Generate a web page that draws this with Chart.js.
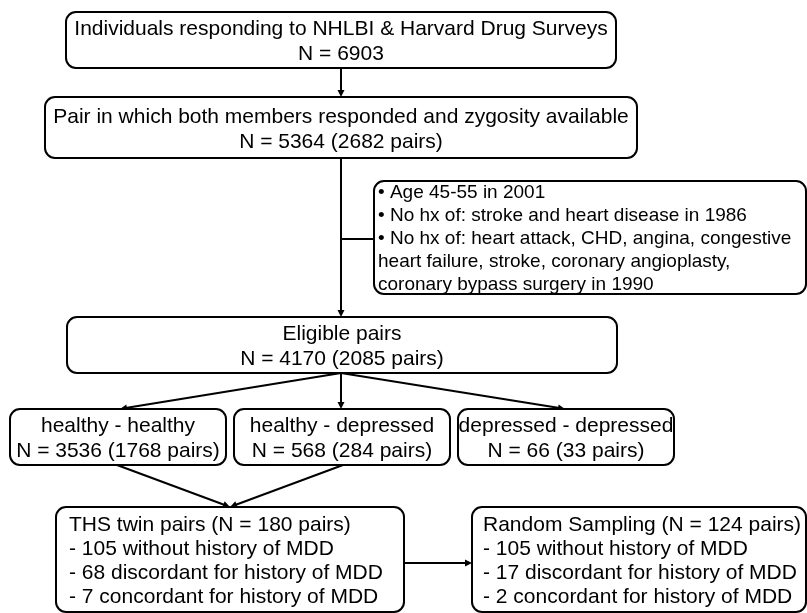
<!DOCTYPE html>
<html>
<head>
<meta charset="utf-8">
<script src="https://cdn.jsdelivr.net/npm/chart.js"></script>
<style>
  html, body { margin: 0; padding: 0; background: #fff; }
  #wrap { width: 807px; height: 613px; }
</style>
</head>
<body>
<div id="wrap"><canvas id="chart" width="807" height="613"></canvas></div>
<script>
// box texts
const surveyLines = ['Individuals responding to NHLBI & Harvard Drug Surveys', 'N = 6903'];
const pairLines = ['Pair in which both members responded and zygosity available', 'N = 5364 (2682 pairs)'];
const criteriaLines = [
    '\u2022 Age 45-55 in 2001',
    '\u2022 No hx of: stroke and heart disease in 1986',
    '\u2022 No hx of: heart attack, CHD, angina, congestive',
    'heart failure, stroke, coronary angioplasty,',
    'coronary bypass surgery in 1990',
];
const eligibleLines = ['Eligible pairs', 'N = 4170 (2085 pairs)'];
const groupLabels = ['healthy - healthy', 'healthy - depressed', 'depressed - depressed'];
const groupN = [3536, 568, 66];
const groupPairs = [1768, 284, 33];
const thsLines = [
    'THS twin pairs (N = 180 pairs)',
    '- 105 without history of MDD',
    '- 68 discordant for history of MDD',
    '- 7 concordant for history of MDD',
];
const randomLines = [
    'Random Sampling (N = 124 pairs)',
    '- 105 without history of MDD',
    '- 17 discordant for history of MDD',
    '- 2 concordant for history of MDD',
];

const FONT = '"Liberation Sans", Arial, sans-serif';

// layout (canvas units)
const boxes = [
    { lines: surveyLines, x0: 66, y0: 12, x1: 616, y1: 68, size: 21, lh: 25 },
    { lines: pairLines, x0: 45, y0: 97, x1: 637, y1: 158, size: 21, lh: 25 },
    { lines: criteriaLines, x0: 374, y0: 181, x1: 806, y1: 294, size: 19, lh: 23, left: 378 },
    { lines: eligibleLines, x0: 67, y0: 317, x1: 617, y1: 373, size: 21, lh: 25 },
    ...groupLabels.map((g, i) => ({
        lines: [g, 'N = ' + groupN[i] + ' (' + groupPairs[i] + ' pairs)'],
        x0: [10, 234, 458][i], y0: 409, x1: [226, 450, 674][i], y1: 465, size: 21, lh: 25,
    })),
    { lines: thsLines, x0: 56, y0: 507, x1: 404, y1: 612, size: 21, lh: 24, left: 69 },
    { lines: randomLines, x0: 472, y0: 507, x1: 806, y1: 612, size: 21, lh: 24, left: 483 },
];

// connectors: [x0, y0, x1, y1, arrow]
const links = [
    [341, 68, 341, 97, true],
    [341, 158, 341, 317, true],
    [341, 239, 374, 239, false],
    [341, 373, 120, 409, true],
    [341, 373, 341, 409, true],
    [341, 373, 565, 409, true],
    [117, 465, 230, 507, true],
    [343, 465, 230, 507, true],
    [404, 563, 472, 563, true],
];

const flowchart = {
    id: 'flowchart',
    afterDatasetsDraw(chart) {
        const { ctx, scales: { x, y } } = chart;
        const px = (v) => x.getPixelForValue(v);
        const py = (v) => y.getPixelForValue(v);
        ctx.save();
        ctx.strokeStyle = '#000';
        ctx.fillStyle = '#000';
        ctx.lineWidth = 2;

        links.forEach(([ax, ay, bx, by, arrow]) => {
            const x0 = px(ax), y0 = py(ay), x1 = px(bx), y1 = py(by);
            const ang = Math.atan2(y1 - y0, x1 - x0);
            const head = arrow ? 7 : 0;
            ctx.beginPath();
            ctx.moveTo(x0, y0);
            ctx.lineTo(x1 - Math.cos(ang) * head * 0.8, y1 - Math.sin(ang) * head * 0.8);
            ctx.stroke();
            if (arrow) {
                ctx.beginPath();
                ctx.moveTo(x1, y1);
                ctx.lineTo(x1 - head * Math.cos(ang) + 3.5 * Math.sin(ang), y1 - head * Math.sin(ang) - 3.5 * Math.cos(ang));
                ctx.lineTo(x1 - head * Math.cos(ang) - 3.5 * Math.sin(ang), y1 - head * Math.sin(ang) + 3.5 * Math.cos(ang));
                ctx.closePath();
                ctx.fill();
            }
        });

        boxes.forEach((b) => {
            const x0 = px(b.x0), y0 = py(b.y0), x1 = px(b.x1), y1 = py(b.y1);
            ctx.beginPath();
            ctx.roundRect(x0, y0, x1 - x0, y1 - y0, 10);
            ctx.fillStyle = '#fff';
            ctx.fill();
            ctx.stroke();

            ctx.fillStyle = '#000';
            ctx.font = b.size + 'px ' + FONT;
            ctx.textBaseline = 'alphabetic';
            const cap = b.size * 0.716;
            const cy = (y0 + y1) / 2;
            const first = cy - (b.lines.length - 1) * b.lh / 2 + cap / 2;
            b.lines.forEach((line, i) => {
                if (b.left !== undefined) {
                    ctx.textAlign = 'left';
                    ctx.fillText(line, px(b.left), first + i * b.lh);
                } else {
                    ctx.textAlign = 'center';
                    ctx.fillText(line, (x0 + x1) / 2, first + i * b.lh);
                }
            });
        });
        ctx.restore();
    },
};

new Chart(document.getElementById('chart').getContext('2d'), {
    type: 'scatter',
    data: { datasets: [] },
    options: {
        responsive: false,
        animation: false,
        layout: { padding: 0 },
        plugins: { legend: { display: false }, tooltip: { enabled: false } },
        scales: {
            x: { type: 'linear', min: 0, max: 807, display: false },
            y: { type: 'linear', min: 0, max: 613, reverse: true, display: false },
        },
    },
    plugins: [flowchart],
});
</script>
</body>
</html>
